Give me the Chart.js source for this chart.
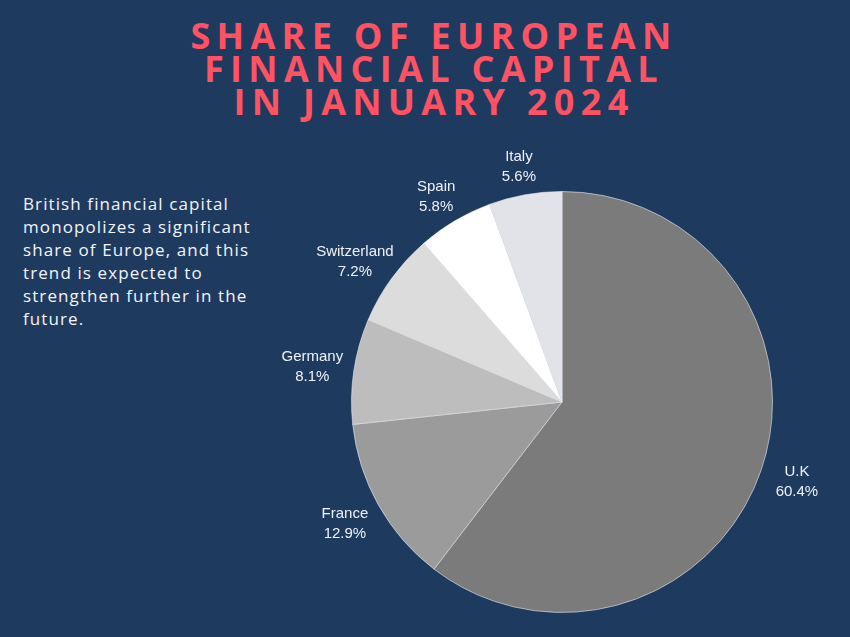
<!doctype html>
<html>
<head>
	<title>Share of European Financial Capital</title>
	<script src="https://cdn.jsdelivr.net/npm/chart.js@4/dist/chart.umd.min.js"></script>
	<style>
	html, body {
		margin: 0;
		padding: 0;
		width: 850px;
		height: 637px;
		overflow: hidden;
		background: #1f3a5f;
	}
	#title {
		position: absolute;
		left: 0;
		top: 19px;
		width: 868px;
		text-align: center;
		color: #ff5262;
		font-family: "Open Sans", sans-serif;
		font-weight: 700;
		font-size: 36px;
		line-height: 33px;
		letter-spacing: 6.3px;
	}
	#note {
		position: absolute;
		left: 23px;
		top: 192px;
		color: #f2f4f7;
		font-family: "Open Sans", sans-serif;
		font-size: 17px;
		line-height: 23px;
		letter-spacing: 1.1px;
	}
	#wrap {
		position: absolute;
		left: 262px;
		top: 102px;
	}
	</style>
</head>
<body>
	<div id="title">SHARE OF EUROPEAN<br>FINANCIAL CAPITAL<br>IN JANUARY 2024</div>
	<div id="note">British financial capital<br>monopolizes a significant<br>share of Europe, and this<br>trend is expected to<br>strengthen further in the<br>future.</div>
	<div id="wrap">
		<canvas id="canvas" width="600" height="600"></canvas>
	</div>
	<script>
		const countries = ['U.K', 'France', 'Germany', 'Switzerland', 'Spain', 'Italy'];
		const shares = [60.4, 12.9, 8.1, 7.2, 5.8, 5.6];
		const sliceColors = ['#7b7b7b', '#9b9b9b', '#bdbdbd', '#dcdcdc', '#ffffff', '#e1e3e8'];

		// draws "name / value%" outside each slice
		const outerLabels = {
			id: 'outerLabels',
			afterDatasetsDraw(chart) {
				const ctx = chart.ctx;
				const meta = chart.getDatasetMeta(0);
				ctx.save();
				ctx.fillStyle = '#eef2f7';
				ctx.font = '15px "Liberation Sans", Arial, sans-serif';
				ctx.textAlign = 'center';
				ctx.textBaseline = 'middle';
				meta.data.forEach((arc, i) => {
					const p = arc.getProps(['x', 'y', 'startAngle', 'endAngle', 'outerRadius'], true);
					const mid = (p.startAngle + p.endAngle) / 2;
					const ux = Math.cos(mid);
					const uy = Math.sin(mid);
					const pct = shares[i].toFixed(1) + '%';
					const hw = Math.max(ctx.measureText(countries[i]).width, ctx.measureText(pct).width) / 2;
					const r = p.outerRadius + 28;
					const x = p.x + ux * r + ux * hw * 0.45;
					const y = p.y + uy * r + (uy > 0 ? uy * 10 : 0);
					ctx.fillText(countries[i], x, y - 10);
					ctx.fillText(pct, x, y + 10);
				});
				ctx.restore();
			}
		};

		new Chart(document.getElementById('canvas').getContext('2d'), {
			type: 'pie',
			data: {
				labels: countries,
				datasets: [{
					data: shares,
					backgroundColor: sliceColors,
					borderColor: 'rgba(230,235,242,0.6)',
					borderWidth: 1
				}]
			},
			options: {
				responsive: false,
				animation: false,
				layout: {
					padding: 89
				},
				plugins: {
					legend: { display: false },
					tooltip: { enabled: false }
				}
			},
			plugins: [outerLabels]
		});
	</script>
</body>
</html>
